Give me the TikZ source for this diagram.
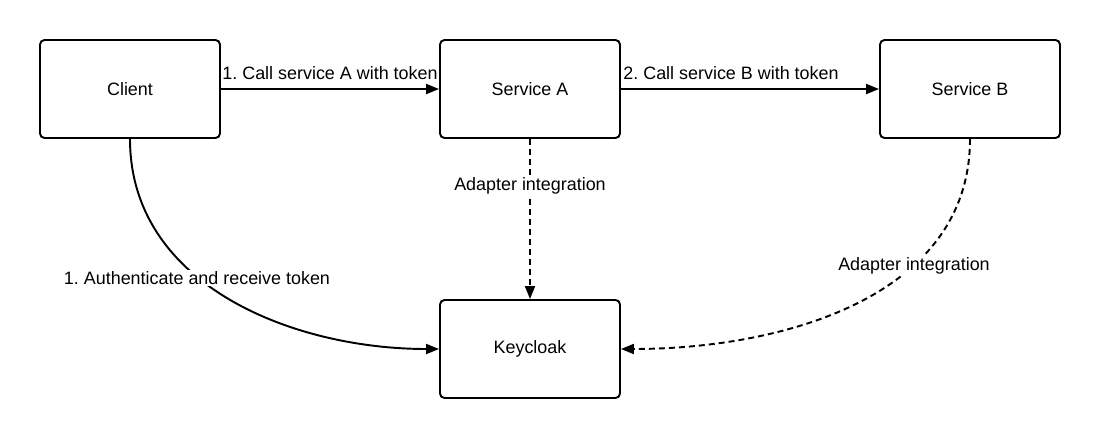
\documentclass[tikz,border=0pt]{standalone}
\usepackage{fontspec}
\setmainfont{Liberation Sans}
\usetikzlibrary{arrows.meta}
\frenchspacing
\begin{document}
\begin{tikzpicture}[x=0.02cm,y=-0.02cm,
  box/.style={draw,line width=1.1pt,rounded corners=0.09cm,minimum width=3.6cm,minimum height=1.96cm,inner sep=0pt,font=\fontsize{10.2pt}{12pt}\selectfont},
  lbl/.style={inner sep=1pt,font=\fontsize{10.2pt}{12pt}\selectfont},
  lblbg/.style={lbl,fill=white},
  conn/.style={line width=1.1pt,-{Triangle[length=0.26cm,width=0.2cm]}},
  dconn/.style={conn,dash pattern=on 0.12cm off 0.08cm}]
\useasboundingbox (0,0) rectangle (1100,440);
\node[box] (client) at (130,89) {Client};
\node[box] (sa) at (530,89) {Service A};
\node[box] (sb) at (970,89) {Service B};
\node[box] (kc) at (530,349) {Keycloak};
\draw[conn] (client) -- (sa);
\draw[conn] (sa) -- (sb);
\node[lbl] (l1) at (330,73) {1. Call service A with token};
\node[lbl] (l2) at (731,73) {2. Call service B with token};
\draw[conn] (client.south) to[out=-90,in=180] (kc.west);
\draw[dconn] (sa.south) -- (kc.north);
\draw[dconn] (sb.south) to[out=-90,in=0] (kc.east);
\node[lblbg] (l3) at (197,278) {1. Authenticate and receive token};
\node[lblbg] (l4) at (530,186) {Adapter integration};
\node[lblbg] (l5) at (914,266) {Adapter integration};
\end{tikzpicture}
\end{document}
